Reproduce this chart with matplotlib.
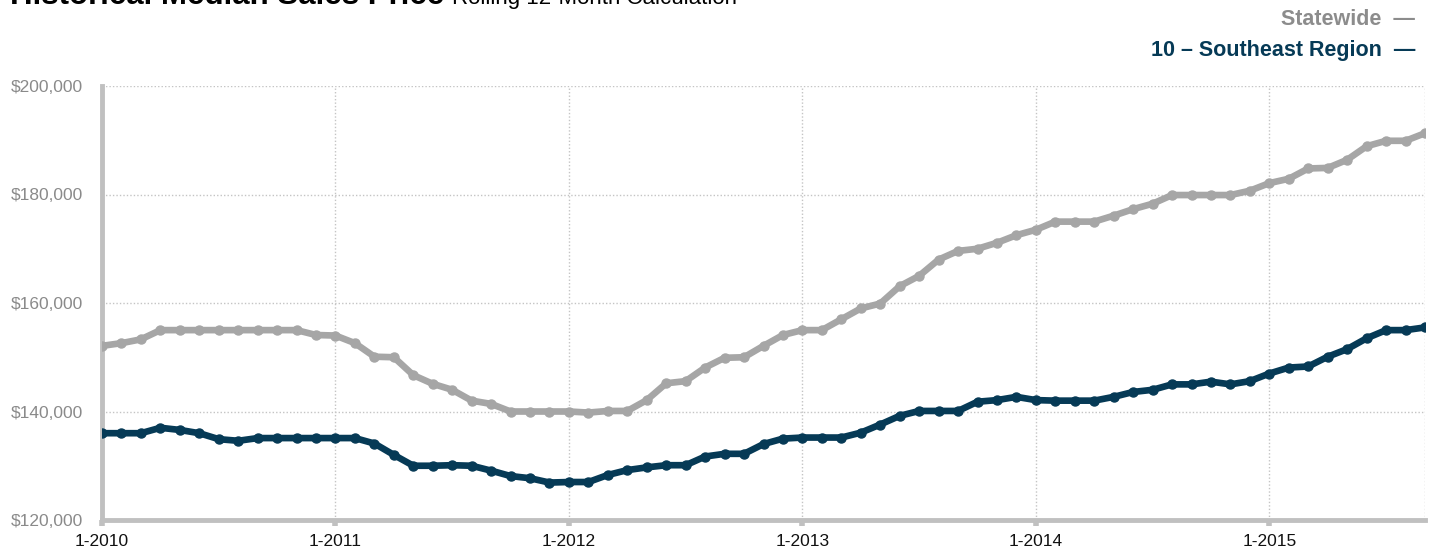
import numpy as np
import matplotlib
matplotlib.use("Agg")
import matplotlib.pyplot as plt
from matplotlib.ticker import FuncFormatter

plt.rcParams['font.family'] = ['Liberation Sans', 'DejaVu Sans']

# monthly rolling 12-month median, 1-2010 .. 9-2015 (thousands of $)
statewide = [152.1, 152.6, 153.3, 155.0, 155.0, 155.0, 155.0, 155.0, 155.0, 155.0, 155.0, 154.1, 154.0,
             152.6, 150.1, 150.0, 146.7, 145.1, 144.0, 142.0, 141.4, 140.0, 140.0, 140.0, 140.0,
             139.8, 140.1, 140.1, 142.1, 145.2, 145.6, 148.1, 149.9, 150.0, 152.1, 154.1,
             155.0, 155.0, 157.0, 159.0, 159.9, 163.1, 165.0, 168.0, 169.6, 170.0, 171.1, 172.5, 173.5,
             175.0, 175.0, 175.0, 176.1, 177.3, 178.3, 179.9, 179.9, 179.9, 179.9, 180.7, 182.1, 182.9,
             184.8, 184.9, 186.4, 188.9, 189.9, 189.9, 191.3]
southeast = [136.0, 136.0, 136.0, 137.0, 136.6, 136.0, 134.9, 134.6, 135.1, 135.1, 135.1, 135.1, 135.1,
             135.1, 134.1, 132.0, 130.0, 130.0, 130.1, 130.0, 129.1, 128.1, 127.7, 126.9, 127.0,
             127.0, 128.3, 129.2, 129.7, 130.1, 130.1, 131.7, 132.2, 132.2, 134.0, 135.0,
             135.2, 135.2, 135.2, 136.1, 137.6, 139.2, 140.1, 140.1, 140.1, 141.8, 142.1, 142.7, 142.1,
             142.0, 142.0, 142.0, 142.7, 143.6, 144.0, 145.0, 145.0, 145.5, 145.0, 145.6, 147.0, 148.1,
             148.3, 150.1, 151.5, 153.5, 155.0, 155.0, 155.5]
year_labels = ["1-2010", "1-2011", "1-2012", "1-2013", "1-2014", "1-2015"]
y_ticks = [120000, 140000, 160000, 180000, 200000]

gray = "#a6a6a6"
navy = "#063a56"

x = np.arange(len(statewide))
fig = plt.figure(figsize=(14.33, 5.5), dpi=100)
ax = fig.add_axes([102 / 1433, 30 / 550, (1425 - 102) / 1433, (520 - 86) / 550])

ax.plot(x, np.array(statewide) * 1000, color=gray, lw=4.8, marker='o', ms=6.5,
        solid_joinstyle='round', zorder=3)
ax.plot(x, np.array(southeast) * 1000, color=navy, lw=4.8, marker='o', ms=6.5,
        solid_joinstyle='round', zorder=4)

ax.set_xlim(0, len(statewide) - 1)
ax.set_ylim(120000, 200000)
ax.set_yticks(y_ticks)
ax.yaxis.set_major_formatter(FuncFormatter(lambda v, p: "${:,.0f}".format(v)))
ax.set_xticks(np.arange(len(year_labels)) * 12)
ax.set_xticklabels(year_labels)

ax.grid(True, color="#c4c4c4", ls=(0, (1, 1.5)), lw=1)
ax.axvline(len(statewide) - 1, color="#c4c4c4", ls=(0, (1, 1.5)), lw=1, zorder=1)
for s in ['top', 'right']:
    ax.spines[s].set_visible(False)
for s in ['left', 'bottom']:
    ax.spines[s].set_color("#c0c0c0")
    ax.spines[s].set_linewidth(3.5)

ax.tick_params(axis='y', length=0, pad=14, labelsize=12.5, labelcolor="#8a8a8a")
ax.tick_params(axis='x', length=4, width=4, color="#c0c0c0", pad=6, labelsize=12.5,
               labelcolor="#111111")

# header sits partly above the top edge, as in the source page
fig.text(10 / 1433, 1 - 4 / 550, "Historical Median Sales Price", fontsize=22.5,
         fontweight='bold', ha='left', va='baseline')
fig.text(452 / 1433, 1 - 4 / 550, "Rolling 12-Month Calculation", fontsize=16,
         ha='left', va='baseline')

fig.text(1415 / 1433, 1 - 25 / 550, "Statewide  \u2014", fontsize=15.5, fontweight='bold',
         color="#8c8c8c", ha='right', va='baseline')
fig.text(1415 / 1433, 1 - 56 / 550, "10 \u2013 Southeast Region  \u2014", fontsize=15.5,
         fontweight='bold', color=navy, ha='right', va='baseline')

fig.savefig("out.png", dpi=100)
